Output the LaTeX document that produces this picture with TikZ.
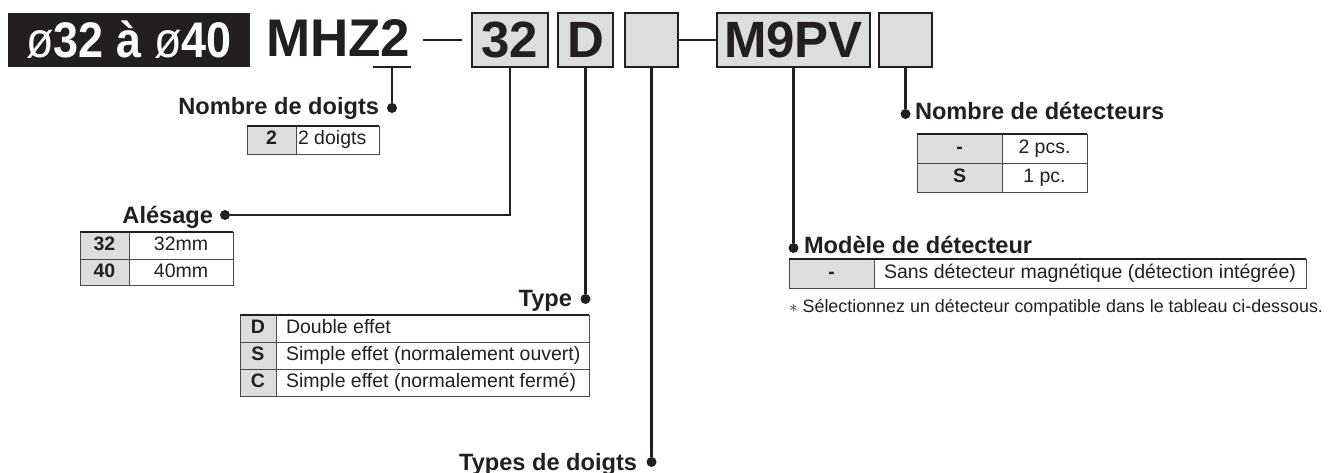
\documentclass[tikz,border=0pt]{standalone}
\usepackage{fontspec}
\setmainfont{Liberation Sans}
\definecolor{ink}{HTML}{231F20}
\definecolor{keyfill}{HTML}{DCDDDE}
\definecolor{tline}{HTML}{4A4A4A}
\newcommand\tabcell[7]{\node[#6, anchor=north west, minimum width={#4-#2}, minimum height={#5-#3}] (#1) at (#2,#3) {#7};}
\begin{document}
\begin{tikzpicture}[x=1pt,y=-1pt,
  every node/.style={inner sep=0pt, outer sep=0pt, text=ink},
  codebox/.style={draw=ink, line width=1.8pt, fill=keyfill, anchor=north west, minimum height=54, font=\bfseries\fontsize{51}{51}\selectfont},
  lab/.style={font=\bfseries\fontsize{23.6}{27}\selectfont},
  dotn/.style={circle, fill=ink, minimum size=10pt},
  conn/.style={draw=ink, line width=2.1pt},
  tk/.style={draw=tline, line width=0.9pt, fill=keyfill, font=\bfseries\fontsize{19.5}{22}\selectfont, text height=14pt, text depth=4pt},
  tv/.style={draw=tline, line width=0.9pt, fill=white, font=\fontsize{19.5}{22}\selectfont, text height=14pt, text depth=4pt},
  ttxt/.style={font=\fontsize{19.5}{22}\selectfont, anchor=west, text height=14pt, text depth=4pt},
  ttop/.style={draw=ink, line width=1.8pt}
]
\useasboundingbox (0,0) rectangle (1333,473);
\fill[white] (0,0) rectangle (1333,473);

% title
\node[fill=ink, anchor=north west, minimum width=242, minimum height=54] (tbox) at (8,13) {};
\node[text=white, font=\bfseries\fontsize{50}{50}\selectfont] (ttext) at (tbox.center) {\scalebox{0.9}[1]{{\mdseries ø}32 à {\mdseries ø}40}};
\node[font=\bfseries\fontsize{53}{53}\selectfont, anchor=base west] (mhz) at (266,57) {MHZ2};
\coordinate (ul1) at (373,67);
\coordinate (ul2) at (411,67);
\coordinate (ulm) at (392,67);
\draw[conn] (ul1) -- (ul2);
\coordinate (da) at (423,40);
\coordinate (db) at (462,40);
\draw[conn, line width=2.6pt] (da) -- (db);

% code boxes
\node[codebox, minimum width=76] (b32) at (472,13) {32};
\node[codebox, minimum width=55] (bD) at (558,13) {D};
\node[codebox, minimum width=53] (bT) at (625,13) {};
\node[codebox, minimum width=153] (bM) at (717,13) {M9PV};
\node[codebox, minimum width=53] (bN) at (879,13) {};
\draw[conn, line width=2.6pt] (bT.east) -- (bM.west);

% helper y levels
\coordinate (yT) at (0,299);
\coordinate (yTD) at (0,462);
\coordinate (yND) at (0,114);
\coordinate (yMD) at (0,248);

% Nombre de doigts
\node[dotn] (dNd) at (392,108) {};
\draw[conn] (ulm) -- (dNd);
\node[lab, anchor=base east] (lNd) at (379,115) {Nombre de doigts};
\tabcell{n1k}{247}{126}{296}{154}{tk}{2}
\tabcell{n1v}{296}{126}{379}{154}{tv}{}
\node[ttxt] (n1t) at ([xshift=2pt]n1v.west) {2 doigts};
\draw[ttop] (n1k.north west) -- (n1v.north east);

% Alesage
\node[dotn] (dA) at (225,215) {};
\draw[conn] (b32.south) |- (dA);
\node[lab, anchor=base east] (lA) at (213,223) {Alésage};
\tabcell{a1k}{80}{232}{129}{259}{tk}{32}
\tabcell{a1v}{129}{232}{233}{259}{tv}{32mm}
\tabcell{a2k}{80}{259}{129}{285}{tk}{40}
\tabcell{a2v}{129}{259}{233}{285}{tv}{40mm}
\draw[ttop] (a1k.north west) -- (a1v.north east);

% Type
\node[dotn] (dT) at (bD.south |- yT) {};
\draw[conn] (bD.south) -- (dT);
\node[lab, anchor=base east] (lT) at (572,306) {Type};
\tabcell{t1k}{240}{315}{276}{342}{tk}{D}
\tabcell{t1v}{276}{315}{589}{342}{tv}{}
\tabcell{t2k}{240}{342}{276}{369}{tk}{S}
\tabcell{t2v}{276}{342}{589}{369}{tv}{}
\tabcell{t3k}{240}{369}{276}{396}{tk}{C}
\tabcell{t3v}{276}{369}{589}{396}{tv}{}
\node[ttxt] (t1t) at ([xshift=10pt]t1v.west) {Double effet};
\node[ttxt] (t2t) at ([xshift=10pt]t2v.west) {Simple effet (normalement ouvert)};
\node[ttxt] (t3t) at ([xshift=10pt]t3v.west) {Simple effet (normalement fermé)};
\draw[ttop] (t1k.north west) -- (t1v.north east);

% Types de doigts
\node[dotn] (dTD) at (bT.south |- yTD) {};
\draw[conn] (bT.south) -- (dTD);
\node[lab, anchor=base east] (lTD) at (637,470) {Types de doigts};

% Modele de detecteur
\node[dotn] (dMD) at (bM.south |- yMD) {};
\draw[conn] (bM.south) -- (dMD);
\node[lab, anchor=base west] (lMD) at (804,253) {Modèle de détecteur};
\tabcell{m1k}{789}{259}{874}{288}{tk}{-}
\tabcell{m1v}{874}{259}{1306}{288}{tv}{}
\node[ttxt] (m1t) at ([xshift=10pt]m1v.west) {Sans détecteur magnétique (détection intégrée)};
\draw[ttop] (m1k.north west) -- (m1v.north east);
\node[font=\fontsize{17.9}{20}\selectfont, anchor=base west] (note) at (789,312) {{\fontsize{16}{16}\selectfont$\ast$} Sélectionnez un détecteur compatible dans le tableau ci-dessous.};

% Nombre de detecteurs
\node[dotn] (dND) at (bN.south |- yND) {};
\draw[conn] (bN.south) -- (dND);
\node[lab, anchor=base west] (lND) at (915,120) {Nombre de détecteurs};
\tabcell{s1k}{917}{134}{1002}{163}{tk}{-}
\tabcell{s1v}{1002}{134}{1087}{163}{tv}{2 pcs.}
\tabcell{s2k}{917}{163}{1002}{192}{tk}{S}
\tabcell{s2v}{1002}{163}{1087}{192}{tv}{1 pc.}
\draw[ttop] (s1k.north west) -- (s1v.north east);
\end{tikzpicture}
\end{document}
